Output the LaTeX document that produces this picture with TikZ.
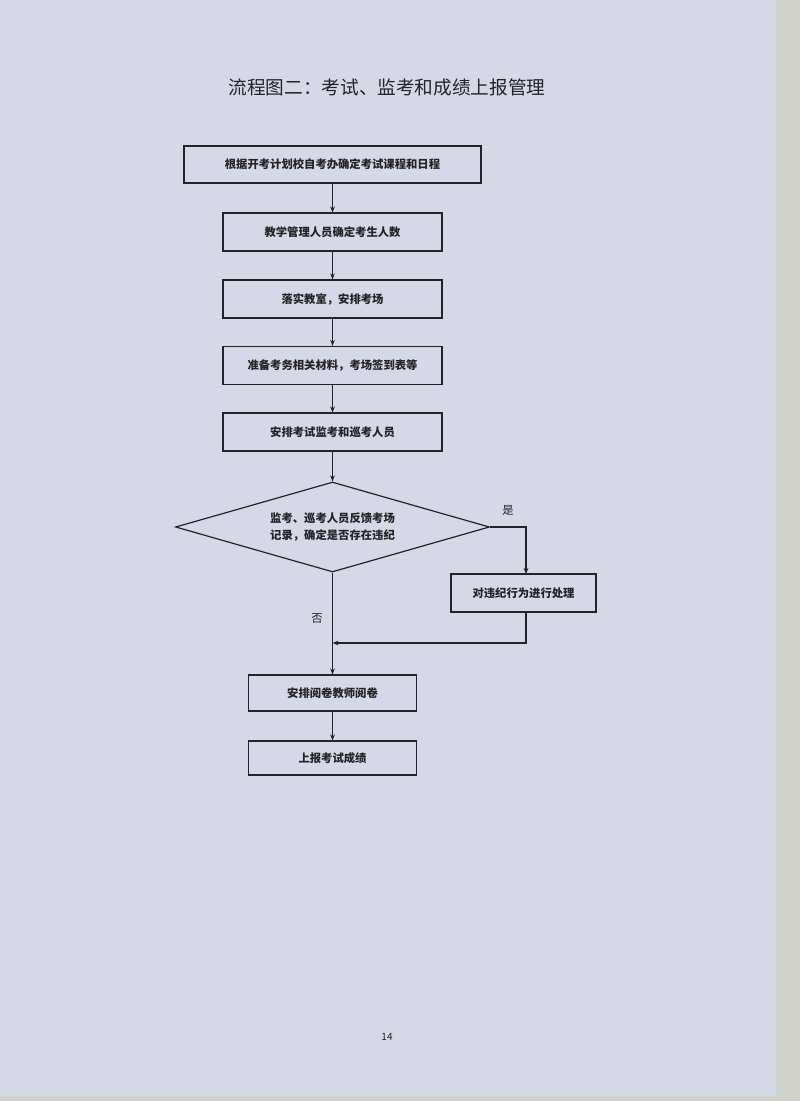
\documentclass[tikz,border=0pt]{standalone}
\usepackage{fontspec}
\newfontfamily\cjk{Noto Sans CJK SC}
\usetikzlibrary{shapes.geometric,arrows.meta}
\definecolor{paper}{RGB}{214,216,229}
\definecolor{strip}{RGB}{206,208,200}
\definecolor{ink}{RGB}{35,35,40}
\begin{document}
\begin{tikzpicture}[x=0.75pt,y=-0.75pt,
		box/.style={draw=ink,line width=0.9pt,fill=none,text=ink,font=\cjk\bfseries\fontsize{8.5}{10}\selectfont,inner sep=0pt},
		choice/.style={box,diamond,aspect=3.5,minimum width=235.5pt,minimum height=67.5pt,align=center,font=\cjk\bfseries\fontsize{8.5}{12.75}\selectfont},
		flow/.style={draw=ink,line width=0.9pt,-{Stealth[length=4.5pt,width=3.5pt]}},
		tag/.style={text=ink,font=\cjk\fontsize{8.5}{10}\selectfont}]
		\useasboundingbox (0,0) rectangle (800,1101);
		\fill[strip] (0,0) rectangle (800,1101);
		\fill[paper] (0,0) rectangle (776,1096);
		\node[text=ink,font=\cjk\fontsize{14}{16}\selectfont] (title) at (387,87) {流程图二：考试、监考和成绩上报管理};
		\node[box,minimum width=222.75pt,minimum height=27.75pt] (plan) at (332.5,164.5) {根据开考计划校自考办确定考试课程和日程};
		\node[box,minimum width=164.25pt,minimum height=28.5pt] (count) at (332.5,232) {教学管理人员确定考生人数};
		\node[box,minimum width=164.25pt,minimum height=28.5pt] (room) at (332.5,299) {落实教室，安排考场};
		\node[box,minimum width=164.25pt,minimum height=28.5pt] (mater) at (332.5,365.5) {准备考务相关材料，考场签到表等};
		\node[box,minimum width=164.25pt,minimum height=28.5pt] (staff) at (332.5,432) {安排考试监考和巡考人员};
		\node[choice] (check) at (332.5,527) {监考、巡考人员反馈考场\\记录，确定是否存在违纪};
		\node[box,minimum width=108.75pt,minimum height=28.5pt] (deal) at (523.5,593) {对违纪行为进行处理};
		\node[box,minimum width=126pt,minimum height=27pt] (mark) at (332.5,693) {安排阅卷教师阅卷};
		\node[box,minimum width=126pt,minimum height=25.5pt] (report) at (332.5,758) {上报考试成绩};
		\coordinate (merge) at (332.5,643);
		\coordinate (drop) at (526,574);
		\draw[flow] (plan) -- (count);
		\draw[flow] (count) -- (room);
		\draw[flow] (room) -- (mater);
		\draw[flow] (mater) -- (staff);
		\draw[flow] (staff) -- (check);
		\draw[flow] (check.east) -| (drop);
		\draw[flow] (deal.south -| drop) |- (merge);
		\draw[flow] (check.south) -- (mark.north);
		\draw[flow] (mark) -- (report);
		\node[tag] (yes) at (508,510) {是};
		\node[tag] (no) at (317,619) {否};
		\node[text=ink,font=\cjk\fontsize{7.5}{9}\selectfont] (page) at (387,1037) {14};
	\end{tikzpicture}
\end{document}
